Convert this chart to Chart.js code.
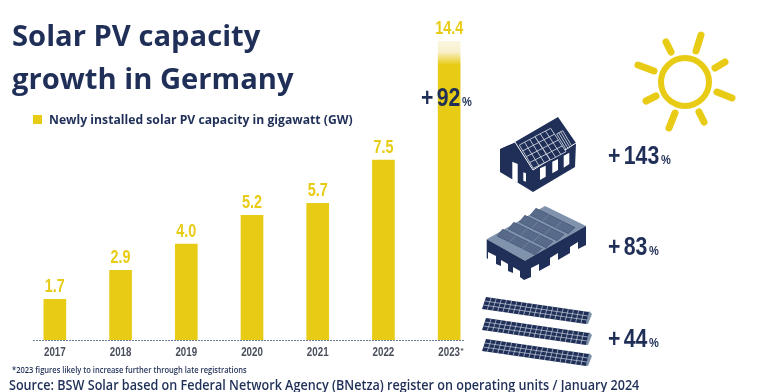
<!DOCTYPE html>
<html>
<head>
<meta charset="utf-8">
<title>Solar PV capacity growth in Germany</title>
<script src="https://cdn.jsdelivr.net/npm/chart.js@4"></script>
<style>
  html, body { margin: 0; padding: 0; background: #fff; }
  #wrap { position: relative; width: 761px; height: 392px; overflow: hidden; font-family: "Open Sans", sans-serif; color: #1f2f57; }
  #chart { position: absolute; left: 0; top: 0; }
  #icons { position: absolute; left: 0; top: 0; }
  .txt { position: absolute; white-space: nowrap; font-weight: 700; transform-origin: left center; }
  .title { left: 12px; top: 14px; font-size: 29.2px; line-height: 43px; }
  .legend { left: 49px; top: 110px; font-size: 12.2px; line-height: 20px; }
  .swatch { position: absolute; left: 33px; top: 115px; width: 9px; height: 9px; background: #e8cb14; }
  .note { left: 12px; top: 364px; font-size: 8.2px; line-height: 11px; font-weight: 600; transform: scaleX(0.92); }
  .source { left: 9px; top: 376px; font-size: 14px; line-height: 18px; font-weight: 600; transform: scaleX(0.9); }
  .pct { font-family: "Liberation Sans", sans-serif; font-size: 25px; line-height: 26px; word-spacing: -3px; transform: scaleX(0.85); }
  .pct small { font-size: 13px; margin-left: 2px; }
</style>
</head>
<body>
<div id="wrap">
  <canvas id="chart" width="761" height="392"></canvas>
  <svg id="icons" width="761" height="392"></svg>
  <div class="txt title">Solar PV capacity<br>growth in Germany</div>
  <div class="swatch"></div>
  <div class="txt legend">Newly installed solar PV capacity in gigawatt (GW)</div>
  <div class="txt pct" style="left:421px;top:84px">+ 92<small>%</small></div>
  <div class="txt pct" style="left:608px;top:142px">+ 143<small>%</small></div>
  <div class="txt pct" style="left:608px;top:233px">+ 83<small>%</small></div>
  <div class="txt pct" style="left:608px;top:325px">+ 44<small>%</small></div>
  <div class="txt note">*2023 figures likely to increase further through late registrations</div>
  <div class="txt source">Source: BSW Solar based on Federal Network Agency (BNetza) register on operating units / January 2024</div>
</div>
<script>
const years = ['2017', '2018', '2019', '2020', '2021', '2022', '2023*'];
const capacity = [1.7, 2.9, 4.0, 5.2, 5.7, 7.5, 14.4];
// the 2023 bar runs off the top of the plot and fades out, so the axis stops short of it
const yMax = 12.46;

const YELLOW = '#e8cb14';
const NAVY = '#1f2f57';
const LABEL_FONT = '"Liberation Sans", sans-serif';

// no condensed font is installed, so squeeze the text horizontally
function narrowText(c, text, x, y, squeeze) {
    c.save();
    c.translate(x, y);
    c.scale(squeeze, 1);
    c.fillText(text, 0, 0);
    c.restore();
}

// value labels over the bars
const valueLabels = {
    id: 'valueLabels',
    afterDatasetsDraw(chart) {
        const c = chart.ctx;
        const bars = chart.getDatasetMeta(0).data;
        c.save();
        c.fillStyle = YELLOW;
        c.font = 'bold 18px ' + LABEL_FONT;
        c.textAlign = 'center';
        c.textBaseline = 'middle';
        bars.forEach((bar, i) => {
            const top = Math.max(bar.y, chart.chartArea.top);
            narrowText(c, capacity[i].toFixed(1), bar.x, top - 12, 0.8);
        });
        c.restore();
    }
};

// year labels and the thin dotted baseline, which is shorter than the plot area
const xAxisDraw = {
    id: 'xAxisDraw',
    afterDatasetsDraw(chart) {
        const c = chart.ctx;
        const a = chart.chartArea;
        c.save();
        c.strokeStyle = '#6f7a98';
        c.lineWidth = 1;
        c.setLineDash([2, 1]);
        c.beginPath();
        c.moveTo(a.left + 11, a.bottom + 0.5);
        c.lineTo(a.right - 18, a.bottom + 0.5);
        c.stroke();
        c.setLineDash([]);
        c.fillStyle = '#4a4f5c';
        c.font = 'bold 12.5px ' + LABEL_FONT;
        c.textBaseline = 'middle';
        c.textAlign = 'center';
        years.forEach((label, i) => {
            const x = chart.scales.x.getPixelForValue(i);
            const year = label.replace('*', '');
            narrowText(c, year, x, a.bottom + 13, 0.78);
            if (label !== year) {
                c.font = 'bold 8px ' + LABEL_FONT;
                c.fillText('*', x + 13, a.bottom + 11);
            }
        });
        c.restore();
    }
};

function barColor(ctx) {
    if (ctx.dataIndex !== years.length - 1 || !ctx.chart.chartArea) return YELLOW;
    const top = ctx.chart.chartArea.top;
    const g = ctx.chart.ctx.createLinearGradient(0, top, 0, top + 24);
    g.addColorStop(0, '#fbf6e2');
    g.addColorStop(0.45, '#f8f0cc');
    g.addColorStop(1, YELLOW);
    return g;
}

new Chart(document.getElementById('chart'), {
    type: 'bar',
    data: {
        labels: years,
        datasets: [{ label: 'Newly installed solar PV capacity in gigawatt (GW)', data: capacity, backgroundColor: barColor, barThickness: 22 }]
    },
    options: {
        responsive: false,
        animation: false,
        layout: { padding: { left: 22, right: 279, top: 41, bottom: 30 } },
        plugins: { legend: { display: false }, tooltip: { enabled: false } },
        scales: {
            x: {
                grid: { display: false },
                border: { display: false },
                ticks: { display: false },
                afterFit(scale) { scale.height = 22; }
            },
            y: { display: false, min: 0, max: yMax }
        }
    },
    plugins: [valueLabels, xAxisDraw]
});

// ---- icons ----
const svg = document.getElementById('icons');
function add(tag, attrs) {
    const el = document.createElementNS('http://www.w3.org/2000/svg', tag);
    for (const k in attrs) el.setAttribute(k, attrs[k]);
    svg.appendChild(el);
}
function poly(pts, fill) {
    add('polygon', { points: pts.map(p => p.join(',')).join(' '), fill: fill });
}
function lerp(a, b, t) { return [a[0] + (b[0] - a[0]) * t, a[1] + (b[1] - a[1]) * t]; }
// solar panel: quad a,b,c,d with a grid of thin lines, edges included when outline is set
function panel(a, b, c, d, nu, nv, fill, line, w, outline) {
    poly([a, b, c, d], fill);
    const s = outline ? 0 : 1;
    for (let i = s; i <= nu - s; i++) {
        const p = lerp(a, b, i / nu), q = lerp(d, c, i / nu);
        add('line', { x1: p[0], y1: p[1], x2: q[0], y2: q[1], stroke: line, 'stroke-width': w });
    }
    for (let j = s; j <= nv - s; j++) {
        const p = lerp(a, d, j / nv), q = lerp(b, c, j / nv);
        add('line', { x1: p[0], y1: p[1], x2: q[0], y2: q[1], stroke: line, 'stroke-width': w });
    }
}

// sun
add('circle', { cx: 685, cy: 82, r: 24, fill: 'none', stroke: YELLOW, 'stroke-width': 6 });
[[666,42,671,52],[701,35,696,51],[725,62,715,68],[732,98,717,92],[704,122,699,112],[669,128,675,113],[646,101,656,96],[638,65,654,71]].forEach(r => {
    add('line', { x1: r[0], y1: r[1], x2: r[2], y2: r[3], stroke: YELLOW, 'stroke-width': 7, 'stroke-linecap': 'round' });
});

// house
poly([[500,149],[515,142],[558,117],[576,143],[575,167],[533,192],[500,172]], NAVY);
add('polyline', { points: '496,149.5 515,142 533,170 576,143', fill: 'none', stroke: '#fff', 'stroke-width': 1 });
panel([519.3,145], [535,136.7], [550,160], [533.3,168.3], 3, 4, NAVY, '#dfe4ee', 0.8, true);
panel([535,136.5], [550.7,128.3], [566,151.7], [550.5,160], 3, 4, NAVY, '#dfe4ee', 0.8, true);
panel([556.7,134], [562.7,130.7], [571.7,146], [566,149.3], 3, 1, NAVY, '#dfe4ee', 0.8, true);
poly([[512.3,161.7],[517.7,164],[517.7,182.7],[512.3,180]], '#fff');
poly([[523.3,172.3],[526,173.3],[526,181.7],[523.3,180.7]], '#fff');
poly([[540,168.3],[545.7,165.7],[545.7,176.7],[540,180]], '#fff');
poly([[552.3,161.7],[558,159],[558,170],[552.3,173.3]], '#fff');
poly([[563.7,155.7],[569.3,152.7],[569.3,164],[563.7,167.7]], '#fff');

// flat roof with panel rows
poly([[486.7,239.3],[545,206],[586,226],[525,260.7]], '#7f93ad');
poly([[486.7,239.3],[525,260.7],[586,226],[586,245],[578,249],[578,242],[570,247],[570,253],[558,260],[558,253],[550,258],[550,265],[539,271],[539,264],[531,268],[531,277],[524,280],[520,277],[520,271],[513,267],[513,273],[508,271],[508,264],[501,260],[501,266],[496,264],[496,256],[488,252],[488,259],[486.7,258]], NAVY);
for (let r = 0; r < 4; r++) {
    const ox = r * 11.1, oy = r * -7;
    const shift = p => [p[0] + ox, p[1] + oy];
    panel(shift([496.7,236]), shift([502.7,229]), shift([542,248.5]), shift([535,255]), 14, 3, NAVY, '#8ea0b8', 0.45);
}

// ground mounted rows
[0, 21, 42].forEach(dy => {
    poly([[589,311 + dy],[592,314 + dy],[588,324 + dy],[586,324 + dy]], '#7f93ad');
    panel([486,297 + dy], [589,312 + dy], [586,324 + dy], [482,309 + dy], 20, 3, NAVY, '#c9d1df', 0.7);
});
</script>
</body>
</html>
